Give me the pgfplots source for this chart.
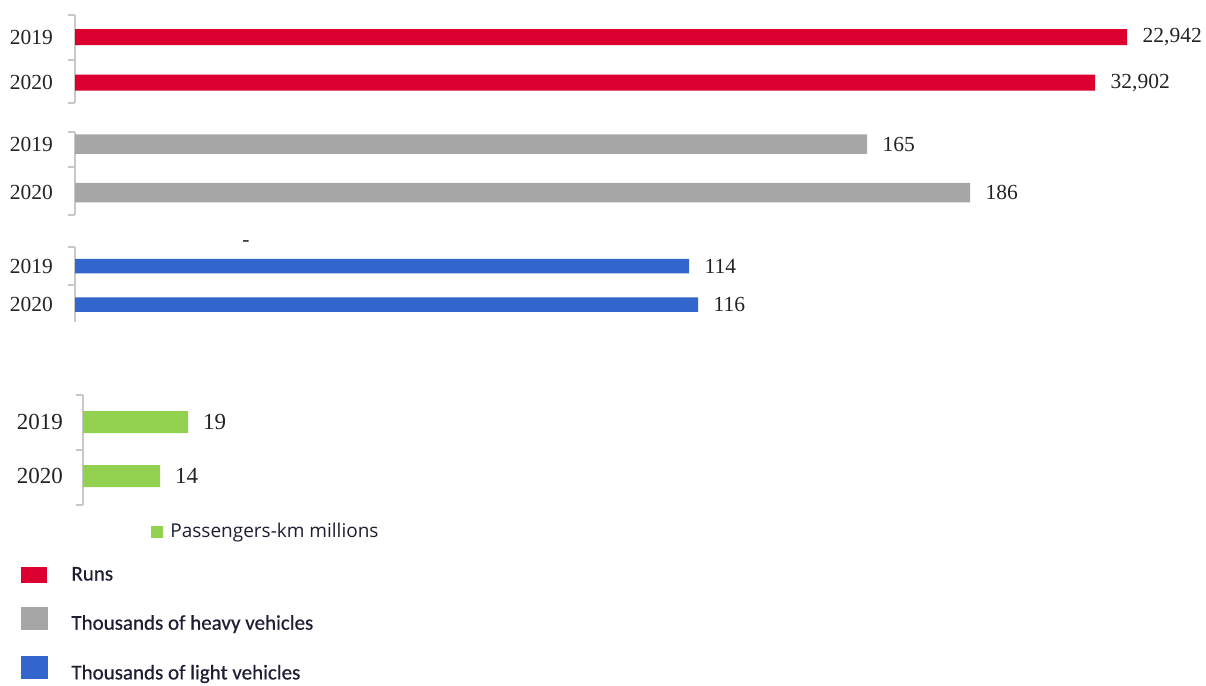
\documentclass[border=0pt]{standalone}
\usepackage{pgfplots}
\usepackage{pgfplotstable}
\pgfplotsset{compat=1.18}
\usepackage{fontspec}
\setmainfont{Liberation Serif}
\newfontfamily\legAfont{Open Sans}
\newfontfamily\legBfont[FakeBold=0.6]{Carlito}
\definecolor{cRed}{RGB}{220,0,48}
\definecolor{cGray}{RGB}{166,166,166}
\definecolor{cBlue}{RGB}{50,102,204}
\definecolor{cGreen}{RGB}{146,208,80}
\definecolor{cLine}{RGB}{200,200,200}
\definecolor{cText}{RGB}{35,35,35}
\definecolor{cLeg}{RGB}{30,30,50}

% bar lengths as drawn (px), bar centre (px), printed value
\pgfplotstableread{
len pos label
1052 37 {22,942}
1020 82.5 {32,902}
}\runs
\pgfplotstableread{
len pos label
792 144 165
895 192.5 186
}\heavy
\pgfplotstableread{
len pos label
614 266 114
623 304.5 116
}\light
\pgfplotstableread{
len pos label
105 422 19
77 476 14
}\pkm

\pgfplotsset{
 grp/.style={
  x=1pt, y=1pt, y dir=reverse, anchor=north west,
  xmin=0, enlargelimits=false, clip=false,
  axis x line=none, axis y line*=left,
  y axis line style={cLine, line width=1.5pt},
  xtick=\empty,
  ytick pos=left,
  major tick length=0pt,
  yticklabels={2019,2020},
  yticklabel style={anchor=east, inner sep=0pt, xshift=-22pt, text=cText, font=\fontsize{21.5}{24}\selectfont},
  extra y tick labels={{},{},{}},
  extra y tick style={major tick length=7pt, tick align=outside, tick style={cLine, line width=1.5pt}},
  xbar,
  nodes near coords, point meta=explicit symbolic,
  every node near coord/.append style={anchor=west, inner sep=0pt, xshift=15.5pt, text=cText, font=\fontsize{21.5}{24}\selectfont},
 }
}

\begin{document}
\begin{tikzpicture}
\useasboundingbox (0,0) rectangle (1206pt,-685pt);

\begin{axis}[grp, at={(75pt,-15pt)}, xmax=1131, ymin=15, ymax=103,
  ytick={37,82.5}, extra y ticks={15,60,103}, bar width=16pt]
\addplot[fill=cRed, draw=none] table[x=len, y=pos, meta=label]{\runs};
\end{axis}

\begin{axis}[grp, at={(75pt,-132pt)}, xmax=1000, ymin=132, ymax=215,
  ytick={144,192.5}, extra y ticks={132,167,215}, bar width=19.5pt]
\addplot[fill=cGray, draw=none] table[x=len, y=pos, meta=label]{\heavy};
\end{axis}

\begin{axis}[grp, at={(75pt,-247pt)}, xmax=800, ymin=247, ymax=322,
  ytick={266,304.5}, extra y ticks={247,285}, extra y tick labels={{},{}}, bar width=14.5pt]
\addplot[fill=cBlue, draw=none] table[x=len, y=pos, meta=label]{\light};
\node[font=\fontsize{21.5}{24}\selectfont, inner sep=0pt, anchor=base, text=cText] at (axis cs:171,246) {-};
\end{axis}

\begin{axis}[grp, at={(83pt,-395pt)}, xmax=300, ymin=395, ymax=505,
  ytick={422,476}, extra y ticks={395,450,505}, bar width=22pt,
  yticklabel style={xshift=2pt, font=\fontsize{23}{26}\selectfont},
  every node near coord/.append style={xshift=-0.5pt, font=\fontsize{23}{26}\selectfont}]
\addplot[fill=cGreen, draw=none] table[x=len, y=pos, meta=label]{\pkm};
\end{axis}

% legend: passengers-km
\begin{axis}[at={(0pt,0pt)}, anchor=north west, x=1pt, y=1pt,
  xmin=0, xmax=1206, ymin=0, ymax=685, hide axis, clip=false,
  legend style={at={(axis description cs:0.125207,0.236496)}, anchor=north west,
    draw=none, fill=none, inner sep=0pt, outer sep=0pt, column sep=8pt,
    nodes={inner sep=0pt, text height=14pt, text depth=4pt, text=cLeg,
      font=\legAfont\fontsize{19}{21}\selectfont}},
  legend cell align=left]
\addlegendimage{legend image code/.code={\fill[cGreen] (0pt,-5pt) rectangle (11pt,6pt);}}
\addlegendentry{Passengers-km millions}
\end{axis}

% legend: runs, heavy, light
\begin{axis}[at={(0pt,0pt)}, anchor=north west, x=1pt, y=1pt,
  xmin=0, xmax=1206, ymin=0, ymax=685, hide axis, clip=false,
  legend style={at={(axis description cs:0.017413,0.174453)}, anchor=north west,
    draw=none, fill=none, inner sep=0pt, outer sep=0pt, column sep=24pt, row sep=21.5pt,
    nodes={inner sep=0pt, text height=15pt, text depth=5pt, text=cLeg,
      font=\legBfont\fontsize{21}{24}\selectfont}},
  legend cell align=left]
\addlegendimage{legend image code/.code={\fill[cRed] (0pt,-6.5pt) rectangle (25pt,8.5pt);}}
\addlegendentry{Runs}
\addlegendimage{legend image code/.code={\fill[cGray] (0pt,-4.5pt) rectangle (26pt,17.5pt);}}
\addlegendentry{Thousands of heavy vehicles}
\addlegendimage{legend image code/.code={\fill[cBlue] (0pt,-4pt) rectangle (26pt,18pt);}}
\addlegendentry{Thousands of light vehicles}
\end{axis}
\end{tikzpicture}
\end{document}
